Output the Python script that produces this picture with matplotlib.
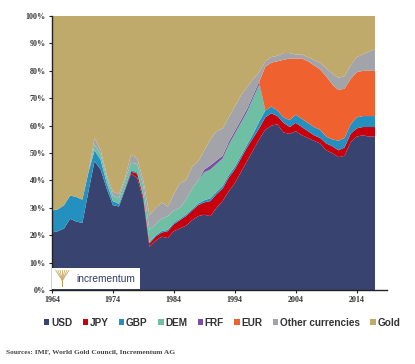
import matplotlib
matplotlib.use("Agg")
import matplotlib.pyplot as plt
import numpy as np
from matplotlib.patches import Patch, Rectangle

years = list(range(1964, 2018))

# cumulative tops (percent of total reserves)
usd_top = [21, 21.5, 22.5, 26, 25, 24.5, 36, 47, 44, 37, 31, 30.5, 36.5, 42.5, 41, 33,
           15.8, 18, 19.5, 19, 21.5, 22.5, 23.5, 25.5, 27, 27.5, 27, 30, 32.5, 36, 39, 43,
           47, 51, 55, 58.5, 60, 60.5, 57.5, 57, 58, 56.5, 55.5, 54.5, 53.5, 51, 50, 48.5,
           49, 54, 56, 56.5, 56, 56]
jpy_top = [21, 21.5, 22.5, 26, 25, 24.5, 36, 47, 44, 37, 31, 30.5, 36.8, 43.2, 42.5, 34,
           17, 19.5, 21, 21.5, 24, 25.5, 27, 29, 31, 32, 32.5, 35, 37, 41, 44, 48,
           52, 55.5, 59, 63, 64.5, 63.5, 61, 59.5, 61, 59.5, 58, 56.5, 55.5, 53.5, 52.5, 51,
           52, 57, 59, 59.5, 59.5, 59.5]
gbp_top = [29, 29.5, 31, 34.5, 34, 33, 43, 51, 47.5, 39, 32.5, 31.5, 37.5, 43.8, 43, 34.5,
           17.5, 20, 21.5, 22, 24.6, 26, 27.6, 29.6, 31.6, 32.8, 33.5, 35.8, 38, 42, 45, 49,
           53, 57, 61.5, 65.5, 67, 65.5, 63, 62, 64, 62.5, 61, 59.5, 58.5, 56, 55, 54.5,
           55.5, 60.5, 63, 63.5, 63.5, 63.5]
dem_top = [29, 29.5, 31, 34.5, 34, 33, 43, 53, 49.5, 41, 34.5, 33.5, 40, 46.5, 46, 38,
           22, 24, 26, 27, 29, 30, 33, 37, 40, 43, 44, 46, 48, 53, 57, 61,
           65, 70, 75, 65.5, 67, 65.5, 63, 62, 64, 62.5, 61, 59.5, 58.5, 56, 55, 54.5,
           55.5, 60.5, 63, 63.5, 63.5, 63.5]
frf_top = [29, 29.5, 31, 34.5, 34, 33, 43, 53, 49.5, 41, 34.5, 33.5, 40, 46.5, 46, 38,
           22, 24, 26, 27, 29, 30, 33, 37, 40, 44, 45.5, 47.3, 49, 54, 58, 62,
           66, 71, 76, 65.5, 67, 65.5, 63, 62, 64, 62.5, 61, 59.5, 58.5, 56, 55, 54.5,
           55.5, 60.5, 63, 63.5, 63.5, 63.5]
eur_top = [29, 29.5, 31, 34.5, 34, 33, 43, 53, 49.5, 41, 34.5, 33.5, 40, 46.5, 46, 38,
           22, 24, 26, 27, 29, 30, 33, 37, 40, 44, 45.5, 47.3, 49, 54, 58, 62,
           66, 71, 76, 81.5, 83, 83.5, 84, 84.5, 84.5, 84.5, 83.5, 82, 80.5, 78, 75, 73,
           73.5, 77, 79.5, 80, 80, 80]
other_top = [29, 29.5, 31, 34.5, 34, 33, 43, 55.5, 51, 42, 36, 35, 41, 49.5, 48, 40,
             27.3, 30, 32, 30.5, 35, 39, 40, 45, 47, 51, 55, 58, 59, 63, 67, 71,
             74, 77, 79.5, 83.5, 85, 85.5, 86.5, 86.5, 86, 86, 85, 84, 83, 81, 79, 77.5,
             78, 82, 85, 86, 87, 87.8]

tops = [usd_top, jpy_top, gbp_top, dem_top, frf_top, eur_top, other_top]
labels = ["USD", "JPY", "GBP", "DEM", "FRF", "EUR", "Other currencies", "Gold"]
colors = ["#394370", "#c8000e", "#2390c0", "#6ebfa3", "#7a4ea0", "#ef6230", "#a3a3aa", "#bfa96b"]

layers = []
prev = np.zeros(len(years))
for t in tops:
    t = np.array(t, dtype=float)
    layers.append(t - prev)
    prev = t
layers.append(100 - prev)

fig = plt.figure(figsize=(4.15, 3.64), dpi=100)
ax = fig.add_axes([0.125, 0.203, 0.808, 0.753])
ax.stackplot(years, layers, colors=colors, linewidth=0)
ax.set_xlim(1964, 2019)
ax.set_ylim(0, 100)
ax.set_yticks(range(0, 101, 10))
ax.set_yticklabels([f"{v}%" for v in range(0, 101, 10)])
ax.set_xticks(range(1964, 2015, 10))
for s in ["top", "right"]:
    ax.spines[s].set_visible(False)
for s in ["left", "bottom"]:
    ax.spines[s].set_linewidth(1.0)
    ax.spines[s].set_color("#222222")
ax.tick_params(axis="both", length=2.5, width=0.8, color="#222222", pad=2)
for lab in ax.get_xticklabels() + ax.get_yticklabels():
    lab.set_fontfamily("Liberation Serif")
    lab.set_fontsize(5.8)
    lab.set_fontweight("bold")
    lab.set_color("#333333")

# logo box
ax.add_patch(Rectangle((1964.1, 0.5), 14.4, 7.6, facecolor="white", edgecolor="none", zorder=5))
ax.add_patch(Rectangle((1965.6, 1.2), 0.25, 3.0, facecolor="#b89b55", zorder=6))
for dx in np.linspace(-1.1, 1.1, 7):
    ax.plot([1965.72, 1965.72 + dx], [3.5, 7.2], color="#c8ad6a", lw=0.6, zorder=6)
ax.text(1968.0, 4.2, "incrementum", fontsize=7.3, color="#2e3a6e", family="Liberation Sans",
        va="center", ha="left", zorder=7)

handles = [Patch(facecolor=c, edgecolor="none") for c in colors]
leg = fig.legend(handles, labels, loc="center", bbox_to_anchor=(0.535, 0.113), ncol=8,
                 frameon=False, handlelength=0.55, handleheight=0.55, handletextpad=0.15,
                 columnspacing=1.05, prop={"family": "Liberation Sans", "weight": "bold", "size": 7.2})
for t in leg.get_texts():
    t.set_color("#333333")

fig.text(0.014, 0.03, "Sources: IMF, World Gold Council, Incrementum AG", fontsize=5.3,
         family="Liberation Serif", weight="bold", color="#444444")

fig.savefig("out.png", dpi=100)
